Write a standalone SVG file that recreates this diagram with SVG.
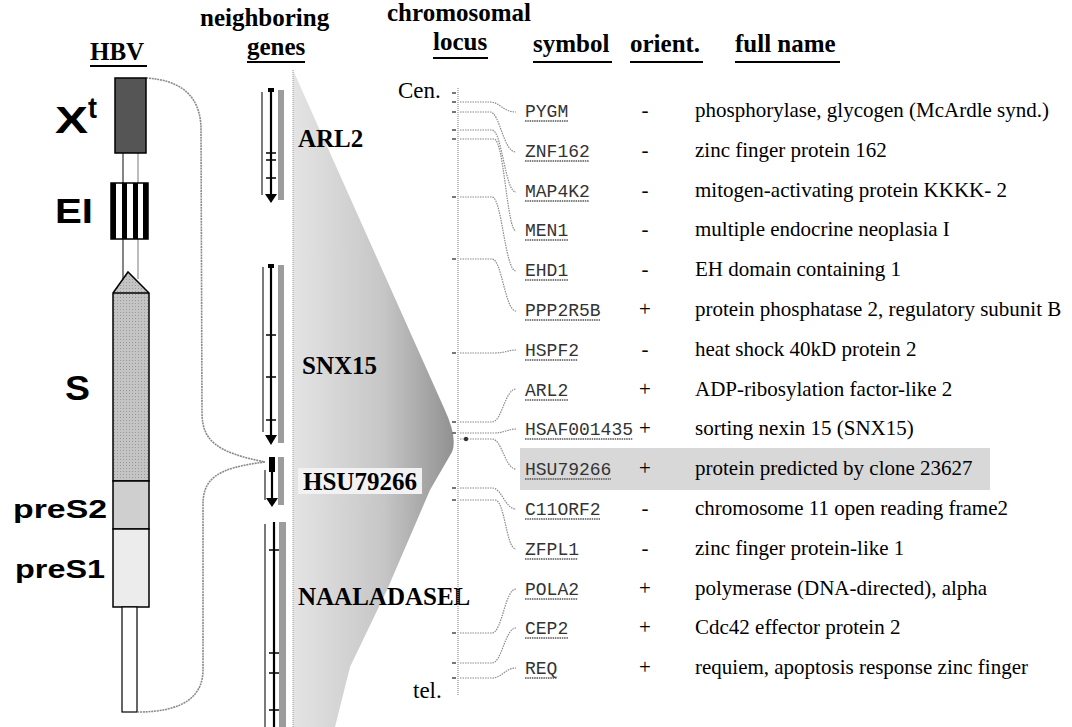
<svg xmlns="http://www.w3.org/2000/svg" width="1072" height="727" viewBox="0 0 1072 727">
<style>
.hd{font-family:"Liberation Serif",serif;font-weight:bold;font-size:25px;fill:#000}
.ul{stroke:#000;stroke-width:2}
.lab{font-family:"Liberation Sans",Arial,sans-serif;font-weight:bold;fill:#000}
.gl{font-family:"Liberation Serif",serif;font-weight:bold;font-size:25px;fill:#000}
.sym{font-family:"Liberation Mono",monospace;font-size:18px;fill:#333}
.sul{stroke:#555;stroke-width:1.3;stroke-dasharray:1.5 0.8}
.ori{font-family:"Liberation Serif",serif;font-size:21px;fill:#000;text-anchor:middle}
.fn{font-family:"Liberation Serif",serif;font-size:21px;fill:#000}
.cl{font-family:"Liberation Serif",serif;font-size:23px;fill:#000}
.brace{fill:none;stroke:#8a8a8a;stroke-width:1.6;stroke-dasharray:2 0.8}
.lead{fill:none;stroke:#8a8a8a;stroke-width:1.2;stroke-dasharray:1.5 1}
.thin{stroke:#333;stroke-width:1.3}
.main{stroke:#000;stroke-width:2.2}
.tick{stroke:#000;stroke-width:1.5}
.gbar{fill:#9c9c9c}
.box{stroke:#000;stroke-width:1.5}
</style>
<defs>
<linearGradient id="tri" gradientUnits="userSpaceOnUse" x1="293" y1="0" x2="458" y2="0">
<stop offset="0" stop-color="#e4e4e4"/>
<stop offset="0.55" stop-color="#c6c6c6"/>
<stop offset="1" stop-color="#8e8e8e"/>
</linearGradient>
<pattern id="stip" width="3" height="3" patternUnits="userSpaceOnUse">
<rect width="3" height="3" fill="#c4c4c4"/>
<rect width="1" height="1" fill="#9a9a9a"/>
</pattern>
</defs>
<rect width="1072" height="727" fill="#fff"/>

<g id="headers">
<text class="hd" x="90" y="60">HBV</text>
<line class="ul" x1="90" y1="66" x2="147" y2="66"/>
<text class="hd" x="200" y="26">neighboring</text>
<text class="hd" x="247" y="55">genes</text>
<line class="ul" x1="247" y1="62" x2="305" y2="62"/>
<text class="hd" x="387" y="21">chromosomal</text>
<text class="hd" x="433" y="50">locus</text>
<line class="ul" x1="433" y1="58" x2="488" y2="58"/>
<text class="hd" x="533" y="52">symbol</text>
<line class="ul" x1="533" y1="62" x2="612" y2="62"/>
<text class="hd" x="630" y="52">orient.</text>
<line class="ul" x1="630" y1="62" x2="703" y2="62"/>
<text class="hd" x="735" y="52">full name</text>
<line class="ul" x1="735" y1="62" x2="840" y2="62"/>
</g>

<g id="triangle">
<path d="M293,70 L444,408 Q458,438 452,452 L430,490 L387,590 L350,667 L335,727 L293,727 Z" fill="url(#tri)"/>
<line x1="293" y1="70" x2="293" y2="727" stroke="#999" stroke-width="1" stroke-dasharray="1 1"/>
</g>

<g id="connectors">
<path class="brace" d="M146,78 C180,80 201,95 201,130 L202,412 C202,440 215,452 265,462"/>
<path class="brace" d="M265,462 C215,468 203,480 203,505 L203,670 C203,695 185,712 138,712"/>
<line x1="123" y1="153" x2="123" y2="183" stroke="#444" stroke-width="1.3"/>
<line x1="138" y1="153" x2="138" y2="183" stroke="#999" stroke-width="1.3"/>
<line x1="123" y1="239" x2="123" y2="279" stroke="#444" stroke-width="1.3"/>
<line x1="138" y1="239" x2="138" y2="279" stroke="#999" stroke-width="1.3"/>
<path class="lead" d="M460,102 H490 C500,102 503,112 516,112"/>
<path class="lead" d="M460,112 H490 C500,112 503,152 516,152"/>
<path class="lead" d="M460,130 H492 C502,130 505,192 516,192"/>
<path class="lead" d="M460,139 H494 C504,139 507,231 516,231"/>
<path class="lead" d="M460,197 H492 C502,197 505,271 516,271"/>
<path class="lead" d="M460,259 H492 C502,259 505,311 516,311"/>
<path class="lead" d="M460,353 H495 C505,353 508,350 516,350"/>
<path class="lead" d="M460,422 H492 C502,422 505,389 516,389"/>
<path class="lead" d="M460,433 H494 C504,433 508,429 516,429"/>
<path class="lead" d="M460,439 H492 C502,439 505,469 516,469"/>
<path class="lead" d="M460,488 H492 C502,488 505,509 516,509"/>
<path class="lead" d="M460,500 H495 C505,500 506,549 516,549"/>
<path class="lead" d="M460,633 H492 C502,633 505,589 516,589"/>
<path class="lead" d="M460,663 H492 C502,663 505,628 516,628"/>
<path class="lead" d="M460,678 H492 C502,678 505,668 516,668"/>
</g>

<g id="hbv-xt">
<rect class="box" x="115" y="78" width="31" height="75" fill="#555"/>
<text class="lab" x="55" y="133" font-size="36" textLength="33" lengthAdjust="spacingAndGlyphs">X</text>
<text class="lab" x="88" y="118" font-size="30" textLength="9" lengthAdjust="spacingAndGlyphs">t</text>
</g>
<g id="hbv-ei">
<rect class="box" x="111" y="183" width="37" height="56" fill="#fff"/>
<rect x="111" y="183" width="5" height="56" fill="#000"/>
<rect x="122" y="183" width="5" height="56" fill="#000"/>
<rect x="133" y="183" width="5" height="56" fill="#000"/>
<rect x="143" y="183" width="5" height="56" fill="#000"/>
<text class="lab" x="55" y="223" font-size="35" textLength="38" lengthAdjust="spacingAndGlyphs">EI</text>
</g>
<g id="hbv-s">
<path class="box" d="M113,293 L128,272 L149,293 L149,481 L113,481 Z" fill="url(#stip)"/>
<line class="box" x1="113" y1="293" x2="149" y2="293"/>
<text class="lab" x="65" y="400" font-size="35" textLength="25" lengthAdjust="spacingAndGlyphs">S</text>
</g>
<g id="hbv-pres2">
<rect class="box" x="113" y="481" width="36" height="48" fill="#cfcfcf"/>
<text class="lab" x="13" y="518" font-size="25" textLength="94" lengthAdjust="spacingAndGlyphs">preS2</text>
</g>
<g id="hbv-pres1">
<rect class="box" x="113" y="529" width="36" height="78" fill="#ececec"/>
<text class="lab" x="15" y="578" font-size="25" textLength="90" lengthAdjust="spacingAndGlyphs">preS1</text>
</g>
<g id="hbv-tail">
<rect x="122" y="607" width="15" height="105" fill="#fff" stroke="#000" stroke-width="1.2"/>
</g>

<g id="gene-arl2">
<rect class="gbar" x="278" y="90" width="6" height="110"/>
<line class="thin" x1="262" y1="92" x2="262" y2="195"/>
<line class="main" x1="271" y1="90" x2="271" y2="196"/>
<rect x="268" y="88" width="6" height="4" fill="#000"/>
<line class="tick" x1="266" y1="153" x2="276" y2="153"/>
<line class="tick" x1="266" y1="160" x2="276" y2="160"/>
<line class="tick" x1="266" y1="178" x2="276" y2="178"/>
<polygon points="265,194 277,194 271,203" fill="#000"/>
<text class="gl" x="298" y="147">ARL2</text>
</g>
<g id="gene-snx15">
<rect class="gbar" x="278" y="265" width="6" height="178"/>
<line class="thin" x1="263" y1="267" x2="263" y2="432"/>
<line class="main" x1="271" y1="265" x2="271" y2="437"/>
<rect x="268" y="264" width="6" height="4" fill="#000"/>
<line class="tick" x1="266" y1="335" x2="276" y2="335"/>
<line class="tick" x1="266" y1="377" x2="276" y2="377"/>
<line class="tick" x1="266" y1="420" x2="276" y2="420"/>
<polygon points="265,435 277,435 271,445" fill="#000"/>
<text class="gl" x="302" y="374">SNX15</text>
</g>
<g id="gene-hsu79266">
<rect class="gbar" x="278" y="457" width="6" height="48"/>
<rect x="269" y="457" width="6" height="15" fill="#000"/>
<line class="thin" x1="265" y1="470" x2="265" y2="500"/>
<line class="main" x1="272" y1="470" x2="272" y2="499"/>
<polygon points="266,498 278,498 272,507" fill="#000"/>
<rect x="298" y="468" width="124" height="26" fill="#f2f2f2"/>
<text class="gl" x="303" y="490">HSU79266</text>
</g>
<g id="gene-naaladasel">
<rect class="gbar" x="279" y="522" width="7" height="205"/>
<line class="thin" x1="265" y1="524" x2="265" y2="727"/>
<line class="main" x1="274" y1="522" x2="274" y2="727"/>
<line class="tick" x1="269" y1="550" x2="279" y2="550"/>
<line class="tick" x1="269" y1="653" x2="279" y2="653"/>
<line class="tick" x1="269" y1="673" x2="279" y2="673"/>
<line class="tick" x1="269" y1="710" x2="279" y2="710"/>
<text class="gl" x="298" y="605">NAALADASEL</text>
</g>

<g id="chromosome">
<line x1="458" y1="88" x2="458" y2="695" stroke="#9a9a9a" stroke-width="1.3" stroke-dasharray="1 1"/>
<g fill="#777">
<rect x="452" y="92" width="4" height="2"/><rect x="452" y="101" width="4" height="2"/>
<rect x="452" y="111" width="4" height="2"/><rect x="452" y="129" width="4" height="2"/>
<rect x="452" y="138" width="4" height="2"/><rect x="452" y="196" width="4" height="2"/>
<rect x="452" y="258" width="4" height="2"/><rect x="452" y="352" width="4" height="2"/>
<rect x="452" y="421" width="4" height="2"/><rect x="452" y="432" width="4" height="2"/>
<rect x="452" y="487" width="4" height="2"/><rect x="452" y="499" width="4" height="2"/>
<rect x="452" y="632" width="4" height="2"/><rect x="452" y="662" width="4" height="2"/>
<rect x="452" y="677" width="4" height="2"/>
</g>
<circle cx="466" cy="439" r="2.2" fill="#333"/>
<text class="cl" x="398" y="98">Cen.</text>
<text class="cl" x="413" y="698">tel.</text>
</g>

<g id="rows">
<rect x="520" y="448" width="470" height="42" fill="#d8d8d8"/>
<g id="row-pygm"><text class="sym" x="525" y="117">PYGM</text><line class="sul" x1="525" y1="121" x2="568" y2="121"/><text class="ori" x="645" y="117">-</text><text class="fn" x="695" y="117">phosphorylase, glycogen (McArdle synd.)</text></g>
<g id="row-znf162"><text class="sym" x="525" y="157">ZNF162</text><line class="sul" x1="525" y1="161" x2="589" y2="161"/><text class="ori" x="645" y="157">-</text><text class="fn" x="695" y="157">zinc finger protein 162</text></g>
<g id="row-map4k2"><text class="sym" x="525" y="197">MAP4K2</text><line class="sul" x1="525" y1="201" x2="589" y2="201"/><text class="ori" x="645" y="197">-</text><text class="fn" x="695" y="197">mitogen-activating protein KKKK- 2</text></g>
<g id="row-men1"><text class="sym" x="525" y="236">MEN1</text><line class="sul" x1="525" y1="240" x2="568" y2="240"/><text class="ori" x="645" y="236">-</text><text class="fn" x="695" y="236">multiple endocrine neoplasia I</text></g>
<g id="row-ehd1"><text class="sym" x="525" y="276">EHD1</text><line class="sul" x1="525" y1="280" x2="568" y2="280"/><text class="ori" x="645" y="276">-</text><text class="fn" x="695" y="276">EH domain containing 1</text></g>
<g id="row-ppp2r5b"><text class="sym" x="525" y="316">PPP2R5B</text><line class="sul" x1="525" y1="320" x2="600" y2="320"/><text class="ori" x="645" y="316">+</text><text class="fn" x="695" y="316">protein phosphatase 2, regulatory subunit B</text></g>
<g id="row-hspf2"><text class="sym" x="525" y="356">HSPF2</text><line class="sul" x1="525" y1="360" x2="578" y2="360"/><text class="ori" x="645" y="356">-</text><text class="fn" x="695" y="356">heat shock 40kD protein 2</text></g>
<g id="row-arl2"><text class="sym" x="525" y="396">ARL2</text><line class="sul" x1="525" y1="400" x2="568" y2="400"/><text class="ori" x="645" y="396">+</text><text class="fn" x="695" y="396">ADP-ribosylation factor-like 2</text></g>
<g id="row-hsaf001435"><text class="sym" x="525" y="435">HSAF001435</text><line class="sul" x1="525" y1="439" x2="633" y2="439"/><text class="ori" x="645" y="435">+</text><text class="fn" x="695" y="435">sorting nexin 15 (SNX15)</text></g>
<g id="row-hsu79266"><text class="sym" x="525" y="475">HSU79266</text><line class="sul" x1="525" y1="479" x2="611" y2="479"/><text class="ori" x="645" y="475">+</text><text class="fn" x="695" y="475">protein predicted by clone 23627</text></g>
<g id="row-c11orf2"><text class="sym" x="525" y="515">C11ORF2</text><line class="sul" x1="525" y1="519" x2="600" y2="519"/><text class="ori" x="645" y="515">-</text><text class="fn" x="695" y="515">chromosome 11 open reading frame2</text></g>
<g id="row-zfpl1"><text class="sym" x="525" y="555">ZFPL1</text><line class="sul" x1="525" y1="559" x2="578" y2="559"/><text class="ori" x="645" y="555">-</text><text class="fn" x="695" y="555">zinc finger protein-like 1</text></g>
<g id="row-pola2"><text class="sym" x="525" y="595">POLA2</text><line class="sul" x1="525" y1="599" x2="578" y2="599"/><text class="ori" x="645" y="595">+</text><text class="fn" x="695" y="595">polymerase (DNA-directed), alpha</text></g>
<g id="row-cep2"><text class="sym" x="525" y="634">CEP2</text><line class="sul" x1="525" y1="638" x2="568" y2="638"/><text class="ori" x="645" y="634">+</text><text class="fn" x="695" y="634">Cdc42 effector protein 2</text></g>
<g id="row-req"><text class="sym" x="525" y="674">REQ</text><line class="sul" x1="525" y1="678" x2="557" y2="678"/><text class="ori" x="645" y="674">+</text><text class="fn" x="695" y="674">requiem, apoptosis response zinc finger</text></g>
</g>
</svg>
